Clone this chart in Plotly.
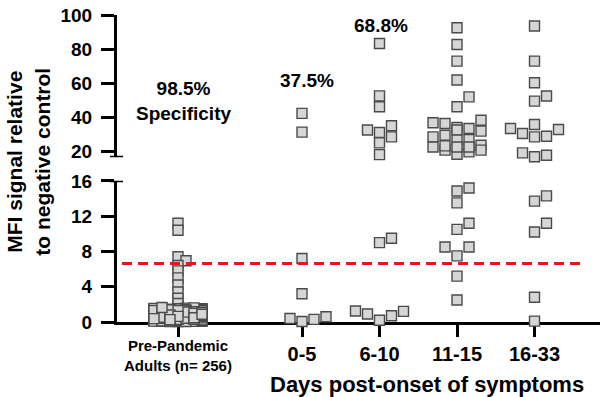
import plotly.graph_objects as go

# ---------------- data ----------------
categories = ["Pre-Pandemic<br>Adults (n= 256)", "0-5", "6-10", "11-15", "16-33"]
cat_x = [0.0, 1.6, 2.6, 3.6, 4.6]
percent_labels = ["98.5%<br>Specificity", "37.5%", "68.8%", "94.4%", "90.0%"]
cutoff = 6.64

pre_pandemic = [
    11.2, 10.4, 7.4, 6.95, 6.4, 5.8, 5.0, 4.2, 3.4, 2.7, 2.1,
    0.12, 0.45, 0.78, 1.05, 0.33, 0.91, 1.22, 0.57, 0.08, 1.41, 0.66, 0.29, 1.13, 0.84, 0.51,
    0.97, 0.21, 1.34, 0.62, 0.04, 1.18, 0.73, 0.39, 1.52, 0.88, 0.15, 1.07, 0.46, 1.29, 0.69,
    0.31, 1.01, 0.55, 1.44, 0.82, 0.18, 1.25, 0.64, 0.93, 0.26, 1.16, 0.49, 1.37, 0.77, 0.09,
    1.09, 0.42, 0.86, 1.31, 0.23, 0.71, 1.48, 0.58, 0.99, 0.35, 1.21, 0.67, 0.13, 1.03, 0.81,
    0.47, 1.27, 0.61, 0.94, 0.19, 1.39, 0.74, 0.28, 1.12, 0.53, 0.89, 1.57, 0.38, 0.76, 1.19,
    0.06, 0.98, 0.44, 1.33, 0.68, 1.08, 0.25, 0.83, 1.46, 0.54, 0.92, 0.17, 1.24, 0.63, 1.02,
    0.36, 0.79, 1.15, 0.48, 1.36, 0.72, 0.11, 0.95, 1.28, 0.59, 0.87, 0.32, 1.11, 0.65, 1.42,
    0.22, 1.06, 0.52, 0.85, 1.23, 0.41, 0.97, 0.14, 1.35, 0.70, 1.00, 0.27, 1.17, 0.56, 0.90,
    1.30, 0.43, 0.80, 1.10, 0.34, 1.50, 0.60, 0.96, 0.20, 1.26, 0.75, 0.40, 1.04, 0.50, 0.87,
    1.20, 0.30, 0.70, 1.38, 0.55, 0.92, 0.16, 1.14, 0.66, 1.00, 0.37, 1.28, 0.82, 0.10, 0.61,
    1.07, 0.45, 0.89, 1.32, 0.24, 0.76, 1.19, 0.52, 0.98, 0.07, 1.40, 0.69, 0.35, 1.05, 0.84,
    0.50, 1.22, 0.63, 0.94, 0.28, 1.13, 0.79, 0.42, 1.60, 0.58, 0.91, 0.19, 1.25, 0.73, 1.02,
    0.39, 0.86, 1.16, 0.47, 1.34, 0.71, 0.13, 0.99, 1.27, 0.60, 0.88, 0.33, 1.09, 0.67, 1.45,
    0.26, 1.03, 0.54, 0.81, 1.20, 0.44, 0.95, 0.05, 1.36, 0.74, 1.01, 0.30, 1.15, 0.57, 0.93,
    1.24, 0.41, 0.78, 1.11, 0.36, 1.53, 0.62, 0.97, 0.22, 1.29, 0.77, 0.43, 1.06, 0.53, 0.85,
    1.18, 0.32, 0.72, 1.39, 0.56, 0.90, 0.17, 1.12, 0.68, 0.99, 0.38, 1.30, 0.80, 0.12, 0.64,
    1.08, 0.48, 0.87, 1.65, 0.27,
]
days_0_5 = [42.2, 31.2, 7.2, 3.2, 0.05, 0.6, 0.3, 0.4]
days_6_10 = [83.3, 52.5, 46.1, 34.9, 32.4, 31.0, 28.4, 24.9, 18.0,
             9.5, 9.0, 0.7, 1.25, 0.9, 1.2, 0.2]
days_11_15 = [92.5, 82.7, 72.9, 61.8, 51.9, 46.1,
              38.2, 36.3, 36.7, 33.9, 33.3, 31.8, 32.4, 28.4, 29.4, 26.9,
              26.5, 20.6, 22.5, 19.6, 23.1, 23.5, 18.2, 22.5, 20.6, 22.5,
              14.85, 15.2, 13.5, 10.5, 11.2, 8.5, 8.5, 7.5, 5.2, 2.5]
days_16_33 = [93.5, 72.9, 60.2, 52.4, 49.4, 33.3, 35.7, 28.4, 28.8, 30.4,
              32.7, 17.6, 16.7, 19.0,
              13.7, 14.3, 11.2, 10.2, 2.8, 0.1]
groups = [pre_pandemic, days_0_5, days_6_10, days_11_15, days_16_33]

# ---------------- layout geometry ----------------
W, H = 600, 397
ML, MR, MT = 117, 0, 15
BOTTOM = 321.7
MB = H - BOTTOM
X_RANGE = [-0.787, 5.445]
LOW_RANGE = [0, 16]
UP_RANGE = [16.5, 100]
plot_h = H - MT - MB
plot_w = W - ML - MR
low_dom = [0, 0.4597]
up_dom = [0.537, 1]
px_per_x = plot_w / (X_RANGE[1] - X_RANGE[0])
low_ppu = plot_h * (low_dom[1] - low_dom[0]) / (LOW_RANGE[1] - LOW_RANGE[0])
up_ppu = plot_h * (up_dom[1] - up_dom[0]) / (UP_RANGE[1] - UP_RANGE[0])


def paper_x(px):
    return (px - ML) / plot_w


def paper_y(py):
    return (BOTTOM - py) / plot_h


def ypix(v):
    if v >= UP_RANGE[0]:
        return (1 - up_dom[0]) * plot_h - (v - UP_RANGE[0]) * up_ppu
    return plot_h - v * low_ppu


def swarm(vals, step_px, max_k, thr_x, thr_y):
    order = sorted(range(len(vals)), key=lambda i: vals[i])
    cands = [0]
    for k in range(1, max_k + 1):
        cands += [k, -k]
    placed = []
    offs = [0.0] * len(vals)
    for i in order:
        y = ypix(vals[i])
        best, bestc = 0, None
        for c in cands:
            x = c * step_px
            cnt = sum(1 for (px, py) in placed if abs(px - x) < thr_x and abs(py - y) < thr_y)
            if cnt == 0:
                best = c
                break
            if bestc is None or cnt < bestc:
                best, bestc = c, cnt
        placed.append((best * step_px, y))
        offs[i] = best * step_px / px_per_x
    return offs


swarm_params = [(4, 6, 7, 5), (6, 5, 10, 10), (6, 5, 10, 10), (6, 5, 10, 10), (6, 5, 10, 10)]

fig = go.Figure()
marker = dict(symbol="square", size=10, color="#d6d6d6",
              line=dict(color="#4a4a4a", width=1.4))
for gx, vals, prm in zip(cat_x, groups, swarm_params):
    offs = swarm(vals, *prm)
    lo_x = [gx + o for o, v in zip(offs, vals) if v < UP_RANGE[0]]
    lo_y = [v for v in vals if v < UP_RANGE[0]]
    hi_x = [gx + o for o, v in zip(offs, vals) if v >= UP_RANGE[0]]
    hi_y = [v for v in vals if v >= UP_RANGE[0]]
    fig.add_trace(go.Scatter(x=lo_x, y=lo_y, mode="markers", marker=marker,
                             xaxis="x", yaxis="y", cliponaxis=False, showlegend=False))
    if hi_y:
        fig.add_trace(go.Scatter(x=hi_x, y=hi_y, mode="markers", marker=marker,
                                 xaxis="x2", yaxis="y2", cliponaxis=False, showlegend=False))

FONT = "Arial, Liberation Sans, sans-serif"
axis_common = dict(showline=True, linewidth=3, linecolor="black", ticks="outside",
                   tickwidth=3, tickcolor="black", showgrid=False, zeroline=False,
                   ticklabelstandoff=5,
                   tickfont=dict(family=FONT, size=19, color="black", weight="bold"))

fig.update_layout(
    width=W, height=H, margin=dict(l=ML, r=MR, t=MT, b=MB, pad=0),
    paper_bgcolor="white", plot_bgcolor="white",
    xaxis=dict(domain=[0, 1], range=X_RANGE, anchor="y", showline=True, linewidth=3,
               linecolor="black", ticks="outside", ticklen=12, tickwidth=3,
               tickcolor="black", tickvals=cat_x,
               ticktext=[""] + categories[1:], showgrid=False, zeroline=False,
               layer="below traces",
               tickfont=dict(family=FONT, size=20, color="black", weight="bold")),
    xaxis2=dict(domain=[0, 1], range=X_RANGE, anchor="y2", matches="x", visible=False),
    yaxis=dict(domain=low_dom, range=LOW_RANGE, anchor="x", tickvals=[0, 4, 8, 12, 16],
               ticklen=13, **axis_common),
    yaxis2=dict(domain=up_dom, range=UP_RANGE, anchor="x2", tickvals=[20, 40, 60, 80, 100],
                ticklen=13, **axis_common),
)

# cutoff line
fig.add_shape(type="line", xref="paper", yref="y", x0=paper_x(122), x1=paper_x(583),
              y0=cutoff, y1=cutoff, line=dict(color="#e8151b", width=3, dash="10px,6px"))
# axis break caps
cap_x0, cap_x1 = paper_x(110), paper_x(123)
fig.add_shape(type="line", xref="paper", yref="y2", x0=cap_x0, x1=cap_x1,
              y0=UP_RANGE[0], y1=UP_RANGE[0], line=dict(color="black", width=3))
fig.add_shape(type="line", xref="paper", yref="y", x0=cap_x0, x1=cap_x1,
              y0=LOW_RANGE[1], y1=LOW_RANGE[1], line=dict(color="black", width=3))

# percentage labels
label_x = [0.07, 1.665, 2.62, 3.63, 4.645]
label_y = [49.7, 61.8, 94.1, 102.9, 102.4]
for txt, lx, ly in zip(percent_labels, label_x, label_y):
    fig.add_annotation(x=lx, y=ly, xref="x2", yref="y2", text=txt, showarrow=False,
                       xanchor="center", yanchor="middle",
                       font=dict(family=FONT, size=19, color="black", weight="bold"))

# pre-pandemic tick label
fig.add_annotation(x=cat_x[0], xref="x", y=paper_y(355), yref="paper",
                   text=categories[0], showarrow=False, xanchor="center", yanchor="middle",
                   font=dict(family=FONT, size=15, color="black", weight="bold"))
# axis titles
fig.add_annotation(x=paper_x(28.5), xref="paper", y=paper_y(162), yref="paper",
                   text="MFI signal relative<br>to negative control", textangle=-90,
                   showarrow=False, xanchor="center", yanchor="middle",
                   font=dict(family=FONT, size=21, color="black", weight="bold"))
fig.add_annotation(x=paper_x(427), xref="paper", y=paper_y(384), yref="paper",
                   text="Days post-onset of symptoms", showarrow=False,
                   xanchor="center", yanchor="middle",
                   font=dict(family=FONT, size=22, color="black", weight="bold"))

# remove the page's default 8px body margin so the figure fills the window exactly
fig.write_html("out.html", config={"displayModeBar": False},
               post_script="document.body.style.margin='0';")
